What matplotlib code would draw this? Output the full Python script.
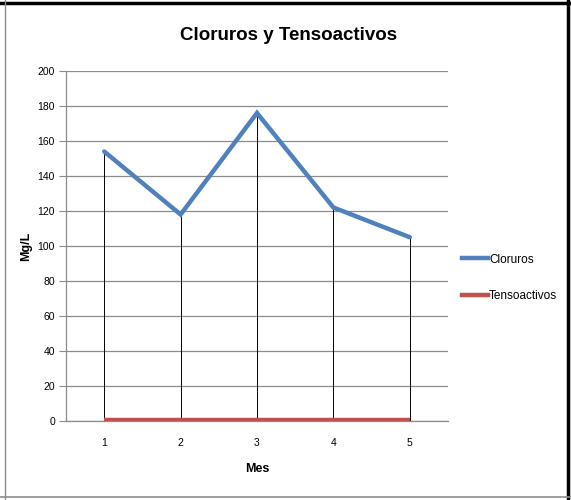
import matplotlib
matplotlib.use("Agg")
import matplotlib.pyplot as plt
from matplotlib.lines import Line2D

# data
meses = [1, 2, 3, 4, 5]
cloruros = [154, 118, 176, 122, 105]
tensoactivos = [0.4, 0.4, 0.4, 0.4, 0.4]
yticks = list(range(0, 201, 20))

plt.rcParams["font.family"] = ["Liberation Sans", "DejaVu Sans"]

fig = plt.figure(figsize=(5.71, 5.0), dpi=100)
ax = fig.add_axes([66 / 571, 1 - 421 / 500, (448 - 66) / 571, (421 - 71) / 500])

ax.set_xlim(0.5, 5.5)
ax.set_ylim(0, 200)
ax.set_yticks(yticks)
ax.set_xticks(meses)
ax.yaxis.grid(True, color="#8c8c8c", lw=0.9)
ax.set_axisbelow(True)

# drop lines from each point to the axis
ax.vlines(meses, 0, cloruros, color="black", lw=0.7, zorder=2)
ax.plot(meses, cloruros, color="#4F81BD", lw=3.2, label="Cloruros",
        solid_capstyle="round", solid_joinstyle="miter", zorder=3)
ax.plot(meses, tensoactivos, color="#C0504D", lw=3.2, label="Tensoactivos",
        solid_capstyle="butt", zorder=3)

for s in ("top", "right"):
    ax.spines[s].set_visible(False)
for s in ("left", "bottom"):
    ax.spines[s].set_color("#8c8c8c")
    ax.spines[s].set_linewidth(0.9)
ax.tick_params(axis="y", length=5, color="#8c8c8c", labelsize=7.5, pad=3)
ax.tick_params(axis="x", length=0, labelsize=7.5, pad=12)

ax.set_xlabel("Mes", fontsize=9, fontweight="bold", labelpad=11)
ax.set_ylabel("Mg/L", fontsize=9, fontweight="bold", labelpad=3.5)
fig.text(0.505, 1 - 36 / 500, "Cloruros y Tensoactivos", ha="center", va="center",
         fontsize=13.5, fontweight="bold")

fig.legend(handles=[Line2D([], [], color="#4F81BD", lw=3.2, label="Cloruros"),
                    Line2D([], [], color="#C0504D", lw=3.2, label="Tensoactivos")],
           loc="center left", bbox_to_anchor=(457 / 571, 1 - 278 / 500),
           frameon=False, fontsize=8.5, handlelength=2.2, handletextpad=0.1,
           labelspacing=2.1, borderaxespad=0)

# outer border of the chart area
fig.add_artist(Line2D([0, 1], [1 - 3 / 500] * 2, color="black", lw=2.5))
fig.add_artist(Line2D([568 / 571] * 2, [0, 1], color="black", lw=2.5))
fig.add_artist(Line2D([5 / 571] * 2, [0, 1], color="#8c8c8c", lw=1))
fig.add_artist(Line2D([0, 1], [3 / 500] * 2, color="#8c8c8c", lw=1.2))

fig.savefig("out.png", dpi=100)
